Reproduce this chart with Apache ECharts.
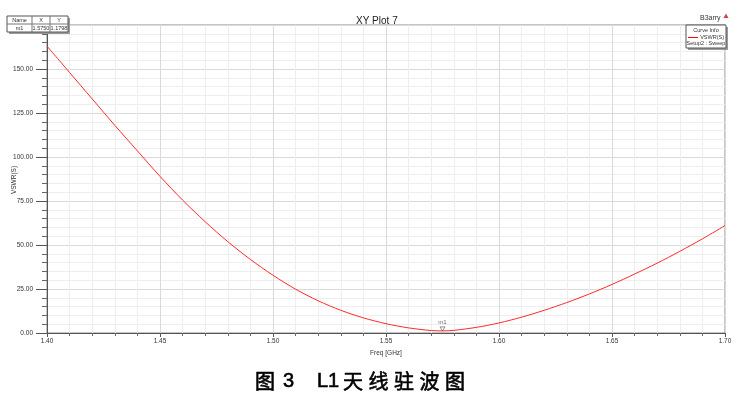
<!DOCTYPE html>
<html>
<head>
<meta charset="utf-8">
<script src="https://cdn.jsdelivr.net/npm/echarts@6/dist/echarts.min.js"></script>
<style>
  html, body { margin: 0; padding: 0; background: #fff; }
  #chart { width: 746px; height: 401px; }
</style>
</head>
<body>
<div id="chart"></div>
<script>
// Swept frequency points (GHz) and simulated VSWR of the L1 antenna
const freqGHz = [1.40, 1.41, 1.42, 1.43, 1.44, 1.45, 1.46, 1.47, 1.48, 1.49,
                 1.50, 1.51, 1.52, 1.53, 1.54, 1.55, 1.56, 1.57, 1.575, 1.58,
                 1.59, 1.60, 1.61, 1.62, 1.63, 1.64, 1.65, 1.66, 1.67, 1.68,
                 1.69, 1.70];
const vswr = [163.0, 148.0, 133.0, 118.0, 103.5, 89.0, 75.5, 63.2, 51.9, 41.8,
              32.8, 24.9, 18.3, 12.9, 8.6, 5.3, 2.9, 1.4, 1.1798, 1.5,
              3.2, 5.7, 9.0, 12.9, 17.3, 22.2, 27.6, 33.5, 39.7, 46.4,
              53.5, 61.0];

// Marker m1 (frequency, VSWR)
const markerName = 'm1';
const markerX = 1.5750;
const markerY = 1.1798;

// Axis tick labels
const xTicks = ['1.40', '1.45', '1.50', '1.55', '1.60', '1.65', '1.70'];
const yTicks = ['0.00', '25.00', '50.00', '75.00', '100.00', '125.00', '150.00'];

// Figure caption pieces and their left positions
const captionParts = ['图', '3', 'L1', '天', '线', '驻', '波', '图'];
const captionLeft = [255, 283, 317, 343, 368.5, 394, 419.5, 445];

const FONT = '"Liberation Sans", Arial, sans-serif';
const CJK = '"Noto Sans CJK SC", sans-serif';
const chart = echarts.init(document.getElementById('chart'), null, { renderer: 'canvas' });

const curve = freqGHz.map((f, i) => [f, vswr[i]]);

// Small marker info table in the top-left corner
const tblX = 7, tblY = 16, colW = [25, 18, 18], rowH = 8;
const tblText = [['Name', 'X', 'Y'], [markerName, markerX.toFixed(4), markerY.toFixed(4)]];
const tblElems = [];
const tblW = colW[0] + colW[1] + colW[2];
tblElems.push({ type: 'rect', shape: { x: tblX + 2, y: tblY + 2, width: tblW, height: rowH * 2 }, style: { fill: '#9a9a9a' }, z: 100 });
tblElems.push({ type: 'rect', shape: { x: tblX, y: tblY, width: tblW, height: rowH * 2 }, style: { fill: '#fff', stroke: '#555', lineWidth: 1 }, z: 101 });
tblElems.push({ type: 'line', shape: { x1: tblX, y1: tblY + rowH, x2: tblX + tblW, y2: tblY + rowH }, style: { stroke: '#777', lineWidth: 1 }, z: 102 });
let cx = tblX;
for (let c = 0; c < 3; c++) {
  if (c > 0) {
    tblElems.push({ type: 'line', shape: { x1: cx, y1: tblY, x2: cx, y2: tblY + rowH * 2 }, style: { stroke: '#777', lineWidth: 1 }, z: 102 });
  }
  for (let r = 0; r < 2; r++) {
    tblElems.push({
      type: 'text', z: 103,
      style: {
        text: tblText[r][c], x: cx + colW[c] / 2, y: tblY + r * rowH + rowH / 2 + 0.5,
        align: 'center', verticalAlign: 'middle', font: '5.5px ' + FONT, fill: '#333',
        textDecoration: (r === 1 && c === 0) ? 'underline' : 'none'
      }
    });
  }
  cx += colW[c];
}

// Curve info box in the top-right corner
const lgX = 686, lgY = 25, lgW = 40, lgH = 23;
const legendElems = [
  { type: 'rect', shape: { x: lgX + 2, y: lgY + 2, width: lgW, height: lgH }, style: { fill: '#9a9a9a' }, z: 100 },
  { type: 'rect', shape: { x: lgX, y: lgY, width: lgW, height: lgH }, style: { fill: '#fff', stroke: '#555', lineWidth: 1 }, z: 101 },
  { type: 'text', z: 102, style: { text: 'Curve Info', x: lgX + lgW / 2, y: lgY + 5, align: 'center', verticalAlign: 'middle', font: '5.5px ' + FONT, fill: '#333' } },
  { type: 'line', z: 102, shape: { x1: lgX + 2, y1: lgY + 12.5, x2: lgX + 12, y2: lgY + 12.5 }, style: { stroke: '#ff0000', lineWidth: 1 } },
  { type: 'text', z: 102, style: { text: 'VSWR(S)', x: lgX + lgW - 2, y: lgY + 12.5, align: 'right', verticalAlign: 'middle', font: '5.5px ' + FONT, fill: '#333' } },
  { type: 'text', z: 102, style: { text: 'Setup2 : Sweep', x: lgX + lgW / 2, y: lgY + 18.5, align: 'center', verticalAlign: 'middle', font: '5.5px ' + FONT, fill: '#333' } },
  { type: 'text', z: 102, style: { text: 'B3arry', x: 700, y: 18, align: 'left', verticalAlign: 'middle', font: '7px ' + FONT, fill: '#333' } },
  { type: 'polygon', z: 102, shape: { points: [[726, 13.5], [723.5, 18], [728.5, 18]] }, style: { fill: '#d84040' } }
];

// Y axis title, rotated, placed left of the tick labels
const yNameElem = {
  type: 'text', z: 105, x: 14, y: 180, rotation: Math.PI / 2,
  style: { text: 'VSWR(S)', x: 0, y: 0, align: 'center', verticalAlign: 'middle', font: '6.5px ' + FONT, fill: '#333' }
};

const captionElems = captionParts.map((t, i) => ({
  type: 'text', z: 110,
  style: {
    text: t, x: captionLeft[i], y: 381, align: 'left', verticalAlign: 'middle',
    font: (/[0-9A-Z]/.test(t) ? '20px ' + FONT : '20px ' + CJK),
    fill: '#000', stroke: '#000', lineWidth: 0.6
  }
}));

const option = {
  backgroundColor: '#fff',
  animation: false,
  title: {
    text: 'XY Plot 7', left: 351, top: 11,
    textStyle: { fontFamily: FONT, fontSize: 10, fontWeight: 'normal', color: '#222' }
  },
  grid: {
    left: 47, right: 21, top: 25, bottom: 68, containLabel: false, outerBoundsMode: 'none',
    show: true, borderColor: '#8a8a8a', borderWidth: 1, backgroundColor: '#fff'
  },
  xAxis: {
    type: 'value', min: 1.40, max: 1.70, interval: 0.05,
    name: 'Freq [GHz]', nameLocation: 'middle', nameGap: 15,
    nameTextStyle: { fontFamily: FONT, fontSize: 6.5, color: '#333' },
    axisLine: { lineStyle: { color: '#555', width: 1 } },
    axisTick: { show: true, length: 4, lineStyle: { color: '#555' } },
    minorTick: { show: true, splitNumber: 5, length: 3, lineStyle: { color: '#666' } },
    axisLabel: {
      fontFamily: FONT, fontSize: 6.5, color: '#333', margin: 5,
      formatter: v => { const s = v.toFixed(2); return xTicks.includes(s) ? s : ''; }
    },
    splitLine: { show: true, lineStyle: { color: '#dadada', width: 1 } },
    minorSplitLine: { show: true, lineStyle: { color: '#eeeeee', width: 1 } }
  },
  yAxis: {
    type: 'value', min: 0, max: 175, interval: 25,
    axisLine: { show: true, lineStyle: { color: '#555', width: 1 } },
    axisTick: { show: true, length: 11, lineStyle: { color: '#555' } },
    minorTick: { show: true, splitNumber: 5, length: 5, lineStyle: { color: '#666' } },
    axisLabel: {
      fontFamily: FONT, fontSize: 6.5, color: '#333', margin: 14,
      formatter: v => { const s = v.toFixed(2); return yTicks.includes(s) ? s : ''; }
    },
    splitLine: { show: true, lineStyle: { color: '#dadada', width: 1 } },
    minorSplitLine: { show: true, lineStyle: { color: '#eeeeee', width: 1 } }
  },
  series: [
    {
      name: 'VSWR(S)', type: 'line', data: curve, smooth: 0.3,
      showSymbol: false, lineStyle: { color: '#ff2a2a', width: 1 }, z: 3
    },
    {
      name: markerName, type: 'scatter', data: [[markerX, markerY]],
      symbol: 'path://M0,0 L10,0 L5,9 Z', symbolSize: [5, 4], symbolOffset: [0, -2],
      itemStyle: { color: 'rgba(0,0,0,0)', borderColor: '#555', borderWidth: 0.8 },
      label: { show: true, formatter: markerName, position: 'top', distance: 1, fontFamily: FONT, fontSize: 6, color: '#444' },
      z: 4
    }
  ],
  graphic: [...tblElems, ...legendElems, yNameElem, ...captionElems]
};

chart.setOption(option);
</script>
</body>
</html>
